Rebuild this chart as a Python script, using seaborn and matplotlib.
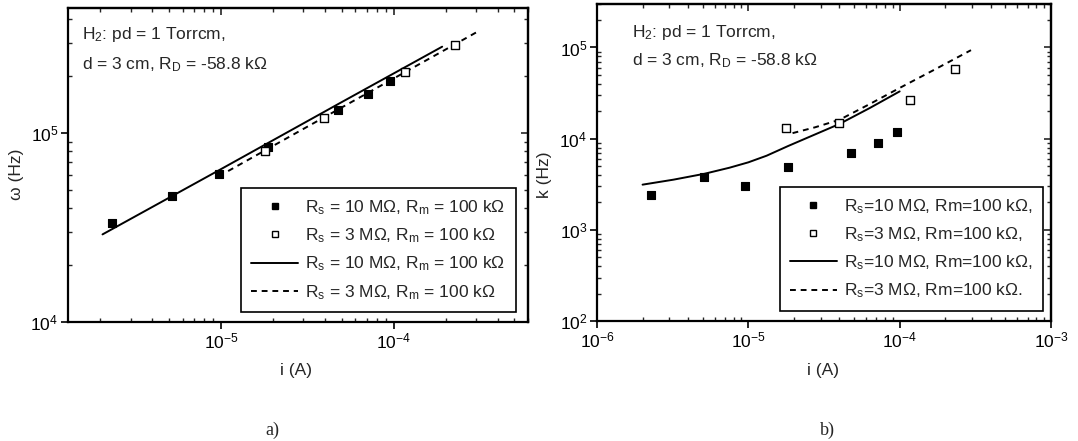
import matplotlib
matplotlib.use("Agg")
import matplotlib.pyplot as plt
import seaborn as sns
import pandas as pd
from matplotlib.lines import Line2D
from matplotlib.ticker import LogLocator, NullFormatter, LogFormatterMathtext

# ---- panel a): oscillation frequency omega vs discharge current ----
a_i_rs10 = [2.35e-6, 5.23e-6, 9.7e-6, 1.86e-5, 4.79e-5, 7.1e-5, 9.56e-5]
a_w_rs10 = [3.33e4, 4.64e4, 6.07e4, 8.4e4, 1.33e5, 1.62e5, 1.88e5]
a_i_rs3 = [1.80e-5, 3.95e-5, 1.17e-4, 2.28e-4]
a_w_rs3 = [8.06e4, 1.20e5, 2.11e5, 2.92e5]
a_i_fit10 = [2.06e-6, 1.0e-5, 4.8e-5, 1.91e-4]
a_w_fit10 = [2.91e4, 6.45e4, 1.43e5, 2.87e5]
a_i_fit3 = [1.1e-5, 4.0e-5, 1.17e-4, 3.05e-4]
a_w_fit3 = [6.3e4, 1.22e5, 2.11e5, 3.44e5]

# ---- panel b): damping k vs discharge current ----
b_i_rs10 = [2.28e-6, 5.13e-6, 9.5e-6, 1.83e-5, 4.79e-5, 7.16e-5, 9.6e-5]
b_k_rs10 = [2.43e3, 3.79e3, 3.05e3, 4.95e3, 7.0e3, 9.0e3, 1.17e4]
b_i_rs3 = [1.77e-5, 3.97e-5, 1.17e-4, 2.32e-4]
b_k_rs3 = [1.30e4, 1.49e4, 2.68e4, 5.79e4]
b_i_fit10 = [2.0e-6, 3.2e-6, 5.13e-6, 7.5e-6, 1.0e-5, 1.32e-5, 1.83e-5, 2.75e-5,
             4.0e-5, 6.35e-5, 1.0e-4]
b_k_fit10 = [3.13e3, 3.55e3, 4.12e3, 4.8e3, 5.5e3, 6.5e3, 8.3e3, 1.11e4,
             1.45e4, 2.17e4, 3.3e4]
b_i_fit3 = [1.96e-5, 2.75e-5, 4.0e-5, 6.35e-5, 1.0e-4, 1.71e-4, 2.96e-4]
b_k_fit3 = [1.15e4, 1.33e4, 1.61e4, 2.4e4, 3.6e4, 5.75e4, 9.35e4]

labels_a = [r"$\mathregular{R_s}$ = 10 MΩ, $\mathregular{R_m}$ = 100 kΩ",
            r"$\mathregular{R_s}$ = 3 MΩ, $\mathregular{R_m}$ = 100 kΩ",
            r"$\mathregular{R_s}$ = 10 MΩ, $\mathregular{R_m}$ = 100 kΩ",
            r"$\mathregular{R_s}$ = 3 MΩ, $\mathregular{R_m}$ = 100 kΩ"]
labels_b = [r"$\mathregular{R_s}$=10 MΩ, Rm=100 kΩ,",
            r"$\mathregular{R_s}$=3 MΩ, Rm=100 kΩ,",
            r"$\mathregular{R_s}$=10 MΩ, Rm=100 kΩ,",
            r"$\mathregular{R_s}$=3 MΩ, Rm=100 kΩ."]
note_line1 = r"H$\mathregular{_2}$: pd = 1 Torrcm,"
note_line2 = r"d = 3 cm, R$\mathregular{_D}$ = -58.8 kΩ"

sns.set_style("ticks")
plt.rcParams["font.family"] = ["Liberation Sans", "DejaVu Sans"]
plt.rcParams["mathtext.fontset"] = "custom"
plt.rcParams["mathtext.rm"] = "Liberation Sans"
plt.rcParams["mathtext.it"] = "Liberation Sans:italic"
plt.rcParams["mathtext.bf"] = "Liberation Sans:bold"

FS = 12.5
DASH = (0, (3, 2.5))
LW = 1.4

fig = plt.figure(figsize=(10.78, 4.41), dpi=100)
ax_a = fig.add_axes([68 / 1078, 1 - 322 / 441, 460 / 1078, 314 / 441])
ax_b = fig.add_axes([597 / 1078, 1 - 321 / 441, 454 / 1078, 317 / 441])


def draw_panel(ax, xr10, yr10, xr3, yr3, xf10, yf10, xf3, yf3, xlim, ylim):
    ax.set_xscale("log")
    ax.set_yscale("log")
    ax.set_xlim(*xlim)
    ax.set_ylim(*ylim)
    sns.lineplot(data=pd.DataFrame({"i": xf10, "v": yf10}), x="i", y="v", ax=ax,
                 color="black", lw=LW, sort=False, estimator=None)
    sns.lineplot(data=pd.DataFrame({"i": xf3, "v": yf3}), x="i", y="v", ax=ax,
                 color="black", lw=LW, linestyle=DASH, sort=False, estimator=None)
    sns.scatterplot(data=pd.DataFrame({"i": xr10, "v": yr10}), x="i", y="v", ax=ax,
                    marker="s", s=36, color="black", edgecolor="black", linewidth=0.8,
                    zorder=3)
    sns.scatterplot(data=pd.DataFrame({"i": xr3, "v": yr3}), x="i", y="v", ax=ax,
                    marker="s", s=38, color="white", edgecolor="black", linewidth=1.0,
                    zorder=3)

    for axis in (ax.xaxis, ax.yaxis):
        axis.set_major_locator(LogLocator(base=10))
        axis.set_minor_locator(LogLocator(base=10, subs=range(2, 10)))
        axis.set_major_formatter(LogFormatterMathtext())
        axis.set_minor_formatter(NullFormatter())
    ax.tick_params(which="major", direction="out", length=5, width=1.2,
                   labelsize=FS, pad=2, colors="black")
    ax.tick_params(which="minor", direction="in", length=3, width=1.0)
    for sp in ax.spines.values():
        sp.set_linewidth(1.6)
        sp.set_color("black")

    # mirrored ticks on the top and right edges, pointing inwards
    top = ax.secondary_xaxis("top")
    right = ax.secondary_yaxis("right")
    for sec, axis in ((top, top.xaxis), (right, right.yaxis)):
        axis.set_major_locator(LogLocator(base=10))
        axis.set_minor_locator(LogLocator(base=10, subs=range(2, 10)))
        axis.set_major_formatter(NullFormatter())
        axis.set_minor_formatter(NullFormatter())
        sec.tick_params(which="major", direction="in", length=5, width=1.2)
        sec.tick_params(which="minor", direction="in", length=3, width=1.0)
        for sp in sec.spines.values():
            sp.set_linewidth(1.6)


draw_panel(ax_a, a_i_rs10, a_w_rs10, a_i_rs3, a_w_rs3,
           a_i_fit10, a_w_fit10, a_i_fit3, a_w_fit3,
           (1.30e-6, 6.0e-4), (1e4, 4.6e5))
draw_panel(ax_b, b_i_rs10, b_k_rs10, b_i_rs3, b_k_rs3,
           b_i_fit10, b_k_fit10, b_i_fit3, b_k_fit3,
           (1e-6, 1e-3), (1e2, 3e5))

handles = [
    Line2D([], [], ls="none", marker="s", ms=5, mfc="black", mec="black"),
    Line2D([], [], ls="none", marker="s", ms=5, mfc="white", mec="black", mew=1.0),
    Line2D([], [], color="black", lw=LW),
    Line2D([], [], color="black", lw=LW, ls=DASH),
]

for ax, labels, anchor in ((ax_a, labels_a, (0.973, 0.032)),
                           (ax_b, labels_b, (0.982, 0.032))):
    leg = ax.legend(handles, labels, loc="lower right", bbox_to_anchor=anchor,
                    borderaxespad=0, frameon=True, fancybox=False, edgecolor="black",
                    framealpha=1, handlelength=2.7, handletextpad=0.4,
                    labelspacing=0.55, borderpad=0.6, fontsize=FS)
    leg.get_frame().set_linewidth(1.2)

ax_a.text(0.03, 0.901, note_line1, transform=ax_a.transAxes, fontsize=FS, va="baseline")
ax_a.text(0.03, 0.806, note_line2, transform=ax_a.transAxes, fontsize=FS, va="baseline")
ax_b.text(0.077, 0.896, note_line1, transform=ax_b.transAxes, fontsize=FS, va="baseline")
ax_b.text(0.077, 0.808, note_line2, transform=ax_b.transAxes, fontsize=FS, va="baseline")

ax_a.set_xlabel("i (A)", fontsize=FS)
ax_a.set_ylabel("ω (Hz)", fontsize=FS)
ax_b.set_xlabel("i (A)", fontsize=FS)
ax_b.set_ylabel("k (Hz)", fontsize=FS)
ax_a.xaxis.set_label_coords(0.496, -0.153)
ax_a.yaxis.set_label_coords(-0.111, 0.47)
ax_b.xaxis.set_label_coords(0.498, -0.155)
ax_b.yaxis.set_label_coords(-0.115, 0.46)
for ax in (ax_a, ax_b):
    ax.xaxis.label.set_va("center")
    ax.yaxis.label.set_va("center")
    ax.yaxis.label.set_ha("center")

fig.text(265 / 1078, 1 - 430 / 441, "a)", family="Liberation Serif", fontsize=13,
         va="center", ha="left")
fig.text(820 / 1078, 1 - 430 / 441, "b)", family="Liberation Serif", fontsize=13,
         va="center", ha="left")

fig.savefig("out.png", dpi=100, facecolor="white")
